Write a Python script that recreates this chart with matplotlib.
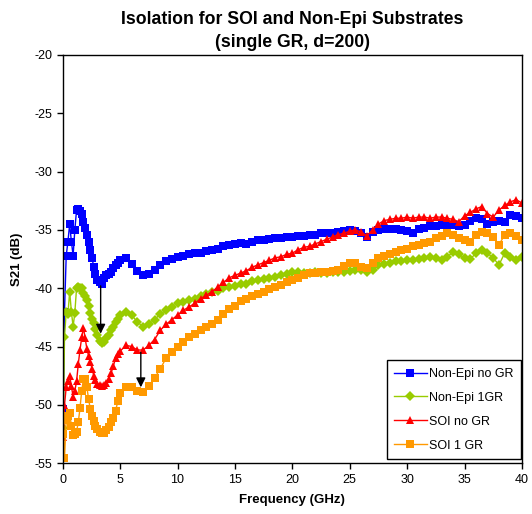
import matplotlib
matplotlib.use('Agg')
import matplotlib.pyplot as plt

plt.rcParams['font.family'] = ['Liberation Sans', 'DejaVu Sans']
plt.rcParams['axes.unicode_minus'] = False

# frequency points (GHz): finer below 5 GHz, 0.5 GHz steps above
freq_low = [0.05, 0.15, 0.3, 0.45, 0.6, 0.75, 0.9, 1.05, 1.2, 1.35, 1.5, 1.65, 1.8, 1.95, 2.1,
            2.25, 2.4, 2.55, 2.7, 2.85, 3.0, 3.2, 3.4, 3.6, 3.8, 4.0, 4.2, 4.4, 4.6, 4.8]
freq_high = [5.0 + 0.5 * i for i in range(71)]
freq = freq_low + freq_high

# S21 (dB) for each substrate / guard ring combo
nonepi_nogr = [-50.4, -42.0, -37.2, -36.0, -34.5, -36.0, -37.2, -35.0, -33.3, -33.2, -33.4, -33.6, -34.3, -34.8, -35.4,
               -36.0, -36.7, -37.4, -38.2, -38.8, -39.3, -39.5, -39.6, -39.1, -38.9, -38.8, -38.6, -38.3, -38.0, -37.8,
               -37.6, -37.4, -37.9, -38.5, -38.9, -38.8, -38.4, -38.0, -37.7, -37.5, -37.3, -37.2, -37.1, -37.0, -37.0,
               -36.8, -36.7, -36.6, -36.4, -36.3, -36.2, -36.1, -36.2, -36.0, -35.9, -35.9, -35.8, -35.7, -35.7, -35.6,
               -35.6, -35.5, -35.5, -35.4, -35.4, -35.3, -35.3, -35.3, -35.2, -35.1, -35.0, -35.1, -35.3, -35.6, -35.2,
               -35.0, -34.9, -34.9, -34.9, -35.0, -35.1, -35.3, -34.9, -34.8, -34.7, -34.7, -34.6, -34.6, -34.6, -34.7,
               -34.6, -34.2, -34.0, -34.1, -34.5, -34.3, -34.2, -34.3, -33.7, -33.8, -34.0]
nonepi_1gr = [-52.0, -44.2, -42.0, -42.2, -40.3, -42.0, -43.3, -42.1, -40.0, -39.9, -40.0, -40.0, -40.4, -40.7, -41.0,
              -41.5, -42.1, -42.6, -43.0, -43.5, -44.0, -44.5, -44.7, -44.6, -44.3, -44.0, -43.6, -43.3, -42.9, -42.6,
              -42.3, -42.0, -42.3, -42.9, -43.3, -43.1, -42.7, -42.2, -41.9, -41.6, -41.3, -41.2, -41.0, -40.9, -40.7,
              -40.5, -40.3, -40.2, -40.0, -39.9, -39.8, -39.6, -39.6, -39.4, -39.3, -39.2, -39.1, -39.0, -38.9, -38.8,
              -38.6, -38.6, -38.7, -38.7, -38.6, -38.7, -38.7, -38.6, -38.6, -38.6, -38.5, -38.4, -38.4, -38.6, -38.4,
              -38.0, -37.9, -37.8, -37.7, -37.7, -37.6, -37.6, -37.5, -37.4, -37.3, -37.4, -37.6, -37.3, -36.9, -37.1,
              -37.4, -37.5, -37.0, -36.7, -37.0, -37.4, -38.0, -37.0, -37.3, -37.6, -37.3]
soi_nogr = [-52.8, -50.0, -48.5, -48.0, -47.5, -48.4, -49.3, -48.8, -48.0, -46.5, -45.3, -44.2, -43.4, -44.3, -45.2,
            -45.8, -46.3, -46.9, -47.5, -47.9, -48.2, -48.3, -48.4, -48.3, -48.1, -47.8, -47.3, -46.7, -46.0, -45.6,
            -45.4, -44.9, -45.0, -45.3, -45.3, -44.9, -44.4, -43.6, -43.1, -42.7, -42.3, -41.9, -41.6, -41.3, -40.9,
            -40.6, -40.3, -39.9, -39.5, -39.1, -38.9, -38.7, -38.5, -38.2, -38.0, -37.8, -37.6, -37.4, -37.3, -37.1,
            -37.0, -36.7, -36.5, -36.4, -36.2, -36.0, -35.8, -35.6, -35.4, -35.3, -35.1, -35.0, -35.2, -35.5, -35.0,
            -34.5, -34.2, -34.1, -34.0, -34.0, -33.9, -34.0, -33.9, -33.9, -34.0, -33.9, -33.9, -34.0, -34.1, -34.3,
            -33.8, -33.5, -33.2, -33.0, -33.6, -33.9, -33.3, -32.9, -32.6, -32.4, -32.7]
soi_1gr = [-52.5, -54.6, -51.3, -51.0, -50.7, -51.8, -52.6, -52.5, -52.3, -51.5, -50.3, -48.8, -47.8, -47.8, -48.5,
           -49.5, -50.4, -51.0, -51.4, -51.8, -52.1, -52.3, -52.4, -52.4, -52.2, -51.9, -51.5, -51.1, -50.5, -49.7,
           -49.0, -48.5, -48.5, -48.8, -48.9, -48.4, -47.7, -46.9, -46.0, -45.5, -45.0, -44.6, -44.2, -43.9, -43.6,
           -43.3, -43.1, -42.7, -42.2, -41.8, -41.5, -41.1, -40.9, -40.7, -40.5, -40.3, -40.1, -39.9, -39.7, -39.5,
           -39.3, -39.1, -38.9, -38.7, -38.7, -38.6, -38.6, -38.5, -38.4, -38.1, -37.8, -37.8, -38.2, -38.3, -37.8,
           -37.4, -37.2, -37.1, -36.9, -36.7, -36.6, -36.4, -36.3, -36.1, -36.0, -35.7, -35.5, -35.3, -35.4, -35.7,
           -35.9, -36.0, -35.4, -35.2, -35.3, -35.6, -36.3, -35.4, -35.3, -35.5, -35.9]

labels = ['Non-Epi no GR', 'Non-Epi 1GR', 'SOI no GR', 'SOI 1 GR']
colors = ['#0000FF', '#99CC00', '#FF0000', '#FF9900']
markers = ['s', 'D', '^', 's']

# arrows showing the guard-ring improvement: (freq, from dB, to dB)
arrow_f = [3.3, 6.8]
arrow_from = [-39.8, -45.5]
arrow_to = [-43.9, -48.5]

fig = plt.figure(figsize=(5.32, 5.14), dpi=100)
ax = fig.add_axes([0.118, 0.099, 0.863, 0.794])

series = [nonepi_nogr, nonepi_1gr, soi_nogr, soi_1gr]
for vals, lab, c, m in zip(series, labels, colors, markers):
    ms = 5.2 if m == 'D' else 5.5
    ax.plot(freq, vals, color=c, marker=m, markersize=ms, linewidth=1,
            markeredgewidth=0, label=lab)

for f, y0, y1 in zip(arrow_f, arrow_from, arrow_to):
    ax.annotate('', xy=(f, y1), xytext=(f, y0),
                arrowprops=dict(arrowstyle='-|>', color='black', lw=1,
                                mutation_scale=14, shrinkA=0, shrinkB=0))

ax.set_xlim(0, 40)
ax.set_ylim(-55, -20)
ax.set_xticks(range(0, 41, 5))
ax.set_yticks(range(-55, -19, 5))
ax.tick_params(direction='out', length=4, width=1, labelsize=9, colors='black')
for s in ax.spines.values():
    s.set_linewidth(1)
    s.set_color('black')

ax.set_xlabel('Frequency (GHz)', fontsize=9.5, fontweight='bold', labelpad=6)
ax.set_ylabel('S21 (dB)', fontsize=9.5, fontweight='bold', labelpad=8)
ax.set_title('Isolation for SOI and Non-Epi Substrates\n(single GR, d=200)',
             fontsize=12.7, fontweight='bold', pad=6, linespacing=1.45)

leg = ax.legend(loc='lower right', bbox_to_anchor=(0.997, 0.01), fontsize=9,
                frameon=True, fancybox=False, edgecolor='black', framealpha=1,
                handlelength=2.6, handletextpad=0.15, labelspacing=0.95,
                borderpad=0.6, borderaxespad=0)
leg.get_frame().set_linewidth(1)

fig.savefig('out.png', dpi=100)
